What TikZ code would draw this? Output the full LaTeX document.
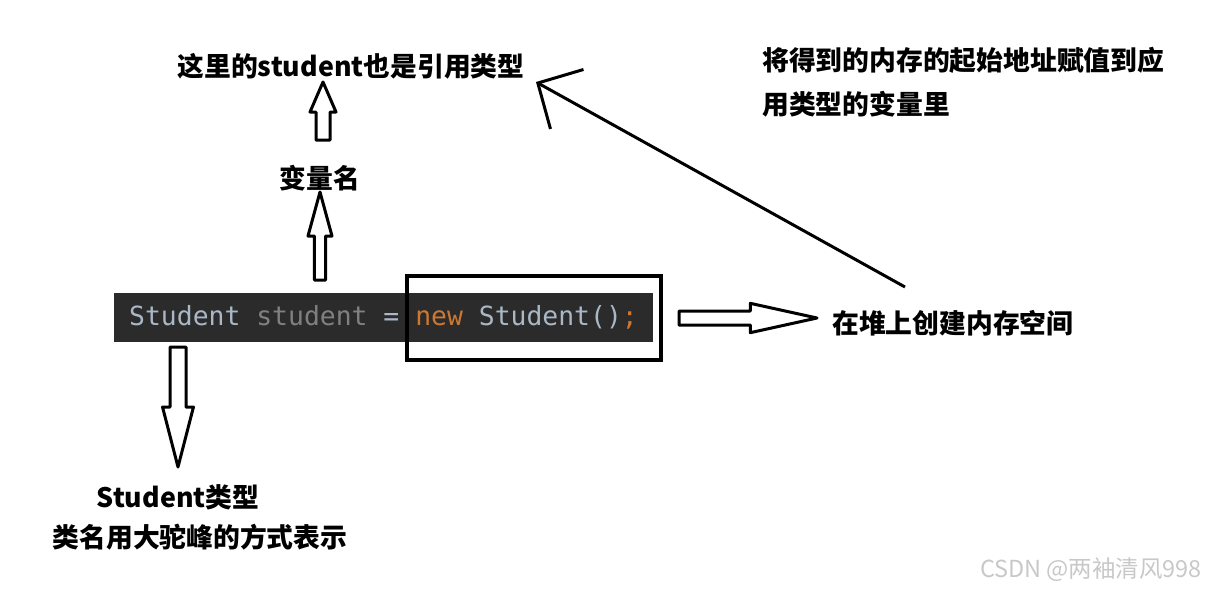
\documentclass[tikz,border=0pt]{standalone}
\usepackage{fontspec}
\setmainfont{Noto Sans CJK SC}
\newfontfamily\codefont{DejaVu Sans Mono}
\usetikzlibrary{calc,arrows.meta}
\definecolor{codebg}{HTML}{2B2B2B}
\definecolor{codefg}{HTML}{A9B7C6}
\definecolor{codevar}{HTML}{808080}
\definecolor{codekw}{HTML}{CC7832}
\definecolor{markgray}{HTML}{C8C8C8}
\newcommand\hollowarrow[5]{%
    \coordinate (hb) at ($(#2)!#5!(#1)$);
    \draw[blockarrow] ($(#1)!#3!90:(#2)$)--($(hb)!#3!90:(#2)$)--($(hb)!#4!90:(#2)$)--(#2)
        --($(hb)!#4!-90:(#2)$)--($(hb)!#3!-90:(#2)$)--($(#1)!#3!-90:(#2)$)--cycle;
}

\begin{document}
\begin{tikzpicture}[x=0.75pt,y=-0.75pt,
    lbl/.style={font=\bfseries\fontsize{20.1}{24}\selectfont,inner sep=0pt},
    codebar/.style={fill=codebg,minimum width=404.25pt,minimum height=36.75pt,inner sep=0pt,
        font=\codefont\fontsize{19.8}{24}\selectfont,text=codefg},
    newbox/.style={draw,line width=3pt,minimum width=190.5pt,minimum height=63pt},
    blockarrow/.style={line width=2.25pt,line join=round},
    pointer/.style={line width=2.25pt,-{Straight Barb[length=25pt,width=51pt,line width=2.25pt]}}]
    \useasboundingbox (0,0) rectangle (1207,590);
    \node[codebar] (code) at (383.5,317.5)
        {Student \textcolor{codevar}{student} = \textcolor{codekw}{new} Student()\textcolor{codekw}{;}};
    \node[newbox] (newexpr) at (534,318) {};
    \node[lbl] (vartop) at (351,66) {这里的student也是引用类型};
    \node[lbl] (varname) at (320,178) {变量名};
    \node[lbl,anchor=west,align=left,font=\bfseries\fontsize{20.1}{33}\selectfont] (addr) at (762,82)
        {将得到的内存的起始地址赋值到应\\用类型的变量里};
    \node[lbl,anchor=west] (heap) at (832,323) {在堆上创建内存空间};
    \node[lbl] (typename) at (178,497) {Student类型};
    \node[lbl] (typenote) at (200,537) {类名用大驼峰的方式表示};
    \node[text=markgray,font=\fontsize{17.6}{20}\selectfont,inner sep=0pt] (mark) at (1091,570) {CSDN @两袖清风998};
    \coordinate (up1s) at (320,280);
    \coordinate (up1e) at (320,192);
    \coordinate (up2s) at (323,140);
    \coordinate (up2e) at (323,82);
    \coordinate (rts) at (679,318);
    \coordinate (rte) at (817,318);
    \coordinate (dns) at (178,347);
    \coordinate (dne) at (178,467);
    \coordinate (ptrs) at (905,287);
    \coordinate (ptre) at (536,82);
    \foreach \s/\e/\w/\h/\l in {up1s/up1e/4.2pt/9pt/33pt,up2s/up2e/5.25pt/9.75pt/22.5pt,
        rts/rte/5.25pt/11pt/50pt,dns/dne/6pt/11.6pt/45pt}
    {
        \hollowarrow{\s}{\e}{\w}{\h}{\l}
    }
    \draw[pointer] (ptrs)--(ptre);
\end{tikzpicture}
\end{document}
